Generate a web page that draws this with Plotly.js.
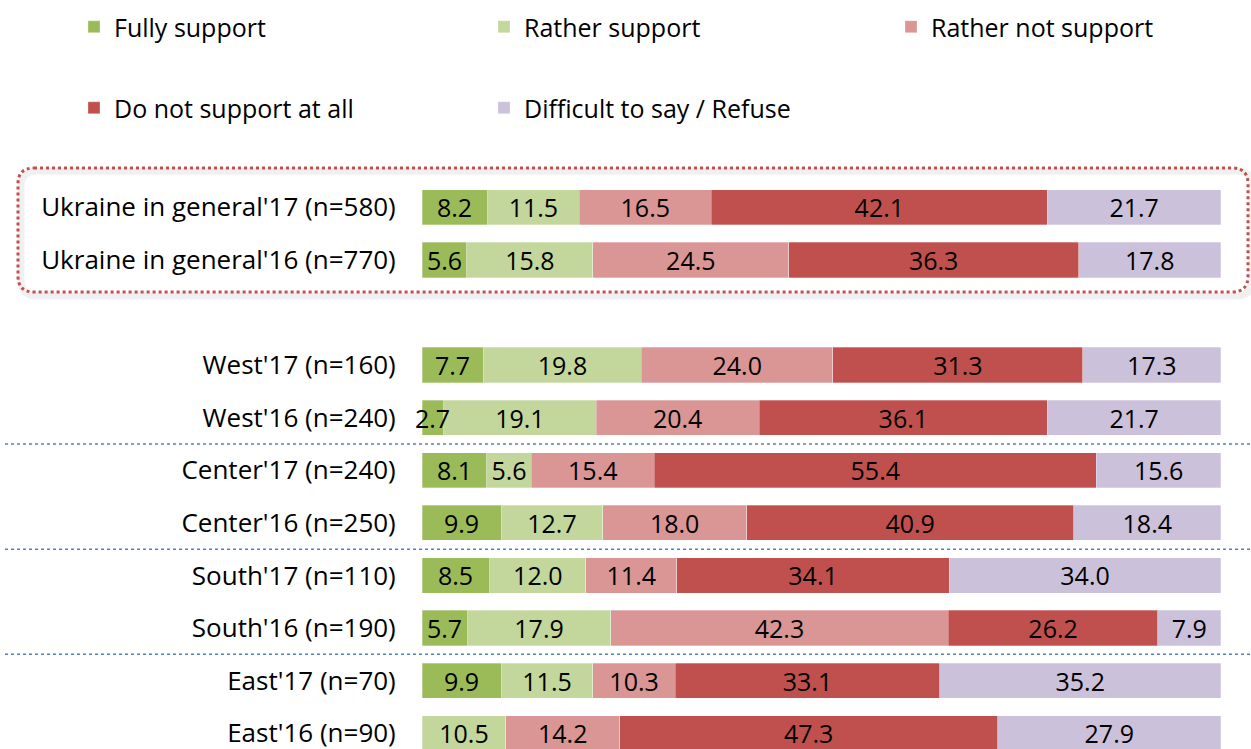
<!DOCTYPE html>
<html>
<head>
<meta charset="utf-8">
<script src="https://cdn.plot.ly/plotly-3.0.1.min.js"></script>
<style>
  html, body { margin: 0; padding: 0; background: #ffffff; }
  #chart { width: 1251px; height: 749px; }
</style>
</head>
<body>
<div id="chart"></div>
<script>
// ---- Data ----
const categories = [
  "Ukraine in general'17 (n=580)",
  "Ukraine in general'16 (n=770)",
  "West'17 (n=160)",
  "West'16 (n=240)",
  "Center'17 (n=240)",
  "Center'16 (n=250)",
  "South'17 (n=110)",
  "South'16 (n=190)",
  "East'17 (n=70)",
  "East'16 (n=90)"
];
const seriesNames = ["Fully support", "Rather support", "Rather not support", "Do not support at all", "Difficult to say / Refuse"];
const fullySupport      = [8.2, 5.6, 7.7, 2.7, 8.1, 9.9, 8.5, 5.7, 9.9, null];
const ratherSupport     = [11.5, 15.8, 19.8, 19.1, 5.6, 12.7, 12.0, 17.9, 11.5, 10.5];
const ratherNotSupport  = [16.5, 24.5, 24.0, 20.4, 15.4, 18.0, 11.4, 42.3, 10.3, 14.2];
const doNotSupport      = [42.1, 36.3, 31.3, 36.1, 55.4, 40.9, 34.1, 26.2, 33.1, 47.3];
const difficultRefuse   = [21.7, 17.8, 17.3, 21.7, 15.6, 18.4, 34.0, 7.9, 35.2, 27.9];
const colors = ["#9bbb59", "#c3d69b", "#d99694", "#c0504d", "#ccc1da"];

// ---- Layout helpers ----
const W = 1251, H = 749;
const ML = 422, MR = 30, MT = 181, MB = 0;
const PW = W - ML - MR, PH = H - MT - MB;
// rows: a blank slot after the two "Ukraine in general" rows
const yPos = categories.map((c, i) => (i < 2 ? i : i + 1));

const FONT = "'Open Sans', sans-serif";
const FS = 25;
const series = [fullySupport, ratherSupport, ratherNotSupport, doNotSupport, difficultRefuse];
const legendIds = ["legend", "legend2", "legend3", "legend4", "legend5"];
// legend item centres (px): marker centre x, row centre y
const legendPos = [[94, 27], [504, 27], [911, 27], [94, 108], [504, 108]];
const fmt = v => (v == null ? "" : v.toFixed(1));

const traces = series.map((vals, k) => ({
  type: "bar",
  orientation: "h",
  name: seriesNames[k],
  x: vals,
  y: yPos,
  width: 0.67,
  marker: { color: colors[k], line: { color: "rgba(255,255,255,0.6)", width: 0.5 } },
  // first segment's labels are drawn as annotations on top (they may overflow)
  text: k === 0 ? vals.map(() => "") : vals.map(fmt),
  texttemplate: "%{text}",
  textposition: "inside",
  insidetextanchor: "middle",
  textangle: 0,
  constraintext: "none",
  cliponaxis: false,
  insidetextfont: { family: FONT, size: FS, color: "#000000" },
  hoverinfo: "name+x",
  legend: legendIds[k]
}));

// labels of the first segment, centred in it (normalised like barnorm 'percent')
const rowTotals = yPos.map((_, i) => series.reduce((s, arr) => s + (arr[i] || 0), 0));
const annotations = [];
fullySupport.forEach((v, i) => {
  if (v == null) return;
  annotations.push({
    xref: "x", yref: "y",
    x: (v * 100 / rowTotals[i]) / 2, y: yPos[i],
    text: fmt(v), showarrow: false,
    xanchor: "center", yanchor: "middle", yshift: 0,
    font: { family: FONT, size: FS, color: "#000000" }
  });
});

function px2x(px) { return (px - ML) / PW; }
function px2y(py) { return (H - MB - py) / PH; }

// rounded dotted rectangle around the "Ukraine in general" rows
function roundedRect(x0, y0, x1, y1, r) {
  const p = (x, y) => px2x(x) + "," + px2y(y);
  return "M" + p(x0 + r, y0) +
    " L" + p(x1 - r, y0) +
    " Q" + p(x1, y0) + " " + p(x1, y0 + r) +
    " L" + p(x1, y1 - r) +
    " Q" + p(x1, y1) + " " + p(x1 - r, y1) +
    " L" + p(x0 + r, y1) +
    " Q" + p(x0, y1) + " " + p(x0, y1 - r) +
    " L" + p(x0, y0 + r) +
    " Q" + p(x0, y0) + " " + p(x0 + r, y0) + " Z";
}

const shapes = [
  { type: "path", xref: "paper", yref: "paper", layer: "below",
    path: roundedRect(21, 171, 1252, 296, 16),
    line: { color: "rgba(0,0,0,0.06)", width: 7 } },
  { type: "path", xref: "paper", yref: "paper",
    path: roundedRect(18, 168, 1248, 292, 16),
    line: { color: "#c0504d", width: 3, dash: "dot" } }
];
[4.5, 6.5, 8.5].forEach(v => {
  shapes.push({ type: "line", xref: "paper", yref: "y",
    x0: px2x(5), x1: px2x(W), y0: v, y1: v,
    line: { color: "#4f81bd", width: 1.5, dash: "dot" } });
});

const layout = {
  width: W, height: H,
  margin: { l: ML, r: MR, t: MT, b: MB, pad: 0, autoexpand: false },
  paper_bgcolor: "#ffffff",
  plot_bgcolor: "#ffffff",
  barmode: "stack",
  barnorm: "percent",
  showlegend: true,
  uniformtext: { mode: "show", minsize: FS },
  font: { family: FONT, size: FS, color: "#000000" },
  xaxis: {
    range: [0, 100.02], autorange: false, showgrid: false, zeroline: false, showline: false,
    showticklabels: false, ticks: "", fixedrange: true
  },
  yaxis: {
    range: [10.3, -0.5], autorange: false,
    tickmode: "array", tickvals: yPos, ticktext: categories,
    showgrid: false, zeroline: false, showline: false,
    ticks: "outside", ticklen: 20, tickcolor: "rgba(0,0,0,0)",
    tickfont: { family: FONT, size: 26, color: "#000000" },
    ticklabeloverflow: "allow",
    fixedrange: true
  },
  annotations: annotations,
  shapes: shapes
};
legendIds.forEach((id, k) => {
  layout[id] = {
    orientation: "h",
    xref: "container", yref: "container",
    xanchor: "left", yanchor: "middle",
    x: (legendPos[k][0] - 20) / W,
    y: 1 - legendPos[k][1] / H,
    font: { family: FONT, size: FS, color: "#000000" },
    bgcolor: "rgba(0,0,0,0)"
  };
});

Plotly.newPlot("chart", traces, layout, { displayModeBar: false, staticPlot: true });
</script>
</body>
</html>
